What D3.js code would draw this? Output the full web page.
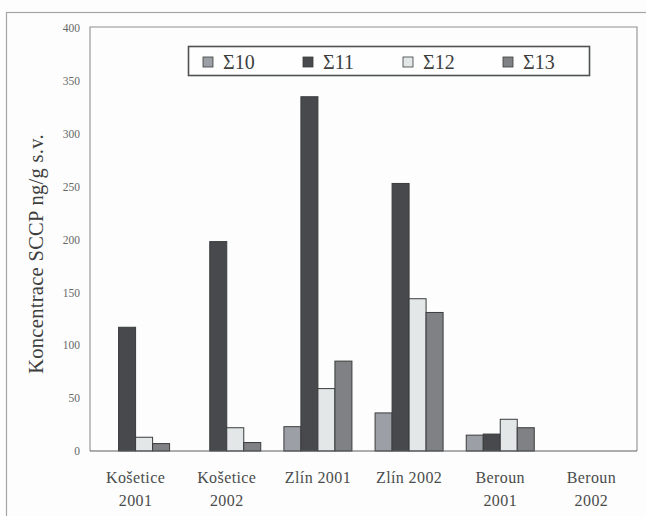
<!DOCTYPE html>
<html>
<head>
<meta charset="utf-8">
<script src="https://cdn.jsdelivr.net/npm/d3@7/dist/d3.min.js"></script>
<style>
  html, body { margin: 0; padding: 0; background: #fcfdfc; }
  svg { display: block; }
  svg text { font-family: "Liberation Serif", "DejaVu Serif", serif; }
</style>
</head>
<body>
<svg id="chart" width="646" height="516"></svg>
<script>
// Sampling sites (two-line labels split on "\n")
const categories = ["Košetice\n2001", "Košetice\n2002", "Zlín 2001", "Zlín 2002", "Beroun\n2001", "Beroun\n2002"];
const seriesNames = ["Σ10", "Σ11", "Σ12", "Σ13"];
// SCCP concentration, ng/g dry weight
const sigma10 = [0, 0, 23, 36, 15, 0];
const sigma11 = [117, 198, 335, 253, 16, 0];
const sigma12 = [13, 22, 59, 144, 30, 0];
const sigma13 = [7, 8, 85, 131, 22, 0];
const yTicks = [0, 50, 100, 150, 200, 250, 300, 350, 400];
const seriesColors = ["#9d9fa6", "#47494c", "#e3e7e8", "#7f8184"];

const seriesValues = [sigma10, sigma11, sigma12, sigma13];
const table = categories.map((c, i) => ({
  category: c,
  values: seriesNames.map((s, k) => ({ series: s, value: seriesValues[k][i] }))
}));

const serif = "'Liberation Serif', 'DejaVu Serif', serif";
const svg = d3.select("#chart");
const plot = { left: 90, right: 637, top: 27, bottom: 451 };

// Outer frame
svg.append("rect")
  .attr("x", 6.5).attr("y", 12.5)
  .attr("width", 660).attr("height", 520)
  .attr("fill", "none").attr("stroke", "#a4a6a6").attr("stroke-width", 1.2);

const x = d3.scaleBand()
  .domain(categories)
  .range([plot.left, plot.right])
  .paddingInner(0.254)
  .paddingOuter(0.127);

const xSeries = d3.scaleBand()
  .domain(seriesNames)
  .range([0, x.bandwidth()]);

const y = d3.scaleLinear()
  .domain([0, 400])
  .range([plot.bottom, 28]);

const color = d3.scaleOrdinal().domain(seriesNames).range(seriesColors);

// Plot area frame
svg.append("path")
  .attr("d", `M${plot.left},${plot.bottom}V${plot.top}H${plot.right}V${plot.bottom}`)
  .attr("fill", "none").attr("stroke", "#8e9090").attr("stroke-width", 1.1);

// Y axis labels
const yAxis = d3.axisLeft(y).tickValues(yTicks).tickSize(0).tickPadding(10);
const yg = svg.append("g")
  .attr("transform", `translate(${plot.left},0)`)
  .call(yAxis)
  .attr("font-family", serif);
yg.select(".domain").remove();
yg.selectAll("text")
  .style("font-family", serif)
  .attr("font-size", 11.5)
  .attr("fill", "#666868");

// Bars
const groups = svg.append("g").selectAll("g")
  .data(table)
  .join("g")
  .attr("transform", d => `translate(${x(d.category)},0)`);

groups.selectAll("rect")
  .data(d => d.values.filter(v => v.value > 0))
  .join("rect")
  .attr("x", v => xSeries(v.series))
  .attr("y", v => y(v.value))
  .attr("width", xSeries.bandwidth())
  .attr("height", v => y(0) - y(v.value))
  .attr("fill", v => color(v.series))
  .attr("stroke", "#3a3c3d")
  .attr("stroke-width", 1);

// Baseline
svg.append("line")
  .attr("x1", plot.left).attr("x2", plot.right)
  .attr("y1", plot.bottom).attr("y2", plot.bottom)
  .attr("stroke", "#5d5f60").attr("stroke-width", 1.2);

// X axis category labels
const xAxis = d3.axisBottom(x).tickSize(0).tickFormat(() => "");
const xg = svg.append("g")
  .attr("transform", `translate(0,${plot.bottom})`)
  .call(xAxis)
  .attr("font-family", serif);
xg.select(".domain").remove();
xg.selectAll(".tick").each(function(d) {
  const lines = d.split("\n");
  const t = d3.select(this).append("text")
    .attr("text-anchor", "middle")
    .style("font-family", serif)
    .attr("font-size", 16)
    .attr("letter-spacing", 0.4)
    .attr("fill", "#4a4c4c");
  lines.forEach((ln, i) => {
    t.append("tspan").attr("x", 0).attr("y", 32 + i * 23).text(ln);
  });
});

// Y axis title
svg.append("text")
  .attr("transform", `translate(43,${(plot.top + plot.bottom) / 2 + 15}) rotate(-90)`)
  .attr("text-anchor", "middle")
  .style("font-family", serif)
  .attr("font-size", 20.5)
  .attr("letter-spacing", 0.3)
  .attr("fill", "#3e4040")
  .text("Koncentrace SCCP ng/g s.v.");

// Legend
const legend = svg.append("g");
legend.append("rect")
  .attr("x", 188.5).attr("y", 46.5)
  .attr("width", 401).attr("height", 29)
  .attr("fill", "#fdfefd").attr("stroke", "#4f5152").attr("stroke-width", 1.6);
const items = legend.selectAll("g.item")
  .data(seriesNames)
  .join("g")
  .attr("class", "item")
  .attr("transform", (d, i) => `translate(${203 + i * 100},62)`);
items.append("rect")
  .attr("x", 0).attr("y", -5)
  .attr("width", 10).attr("height", 10)
  .attr("fill", d => color(d))
  .attr("stroke", "#3a3c3d").attr("stroke-width", 0.8);
items.append("text")
  .attr("x", 20).attr("y", 7)
  .style("font-family", serif)
  .attr("font-size", 20)
  .attr("fill", "#3e4040")
  .text(d => d);
</script>
</body>
</html>
